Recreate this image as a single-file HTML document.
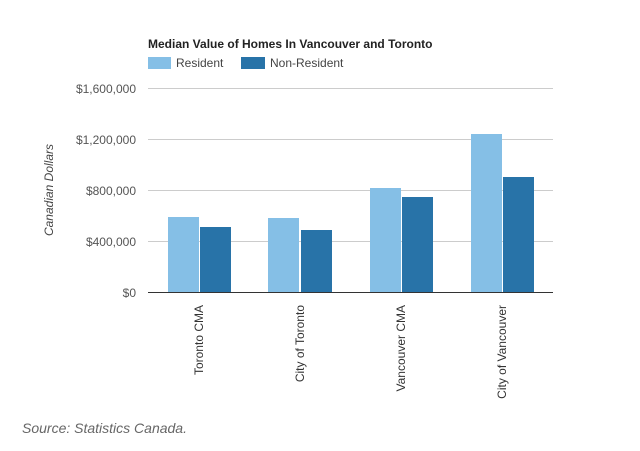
<!DOCTYPE html>
<html><head><style>
body{margin:0;background:#fff;width:640px;height:451px;overflow:hidden}
svg{display:block}
</style></head><body>
<svg width="640" height="451" xmlns="http://www.w3.org/2000/svg" font-family="Liberation Sans, Arial, sans-serif">
<text x="148" y="48" font-size="12" font-weight="bold" fill="#222">Median Value of Homes In Vancouver and Toronto</text>
<rect x="148" y="57" width="23" height="12" fill="#85bfe6"/>
<text x="176" y="67" font-size="12" fill="#444">Resident</text>
<rect x="241" y="57" width="24" height="12" fill="#2873a8"/>
<text x="270" y="67" font-size="12" fill="#444">Non-Resident</text>
<g stroke="#ccc" stroke-width="1">
<line x1="148" y1="88.5" x2="553" y2="88.5"/>
<line x1="148" y1="139.5" x2="553" y2="139.5"/>
<line x1="148" y1="190.5" x2="553" y2="190.5"/>
<line x1="148" y1="241.5" x2="553" y2="241.5"/>
</g>
<g font-size="12" fill="#555" text-anchor="end">
<text x="136" y="93">$1,600,000</text>
<text x="136" y="144">$1,200,000</text>
<text x="136" y="195">$800,000</text>
<text x="136" y="246">$400,000</text>
<text x="136" y="297">$0</text>
</g>
<text transform="translate(53,190) rotate(-90)" font-size="12" font-style="italic" fill="#444" text-anchor="middle">Canadian Dollars</text>
<g fill="#85bfe6">
<rect x="168" y="217" width="31" height="75"/>
<rect x="268" y="218" width="31" height="74"/>
<rect x="370" y="188" width="31" height="104"/>
<rect x="471" y="134" width="31" height="158"/>
</g>
<g fill="#2873a8">
<rect x="200" y="227" width="31" height="65"/>
<rect x="301" y="230" width="31" height="62"/>
<rect x="402" y="197" width="31" height="95"/>
<rect x="503" y="177" width="31" height="115"/>
</g>
<line x1="148" y1="292.5" x2="553" y2="292.5" stroke="#333" stroke-width="1"/>
<g font-size="12" fill="#333" text-anchor="end">
<text transform="translate(203,305) rotate(-90)">Toronto CMA</text>
<text transform="translate(304,305) rotate(-90)">City of Toronto</text>
<text transform="translate(405,305) rotate(-90)">Vancouver CMA</text>
<text transform="translate(506,305) rotate(-90)">City of Vancouver</text>
</g>
<text x="22" y="433" font-size="14" font-style="italic" fill="#666">Source: Statistics Canada.</text>
</svg>
</body></html>
